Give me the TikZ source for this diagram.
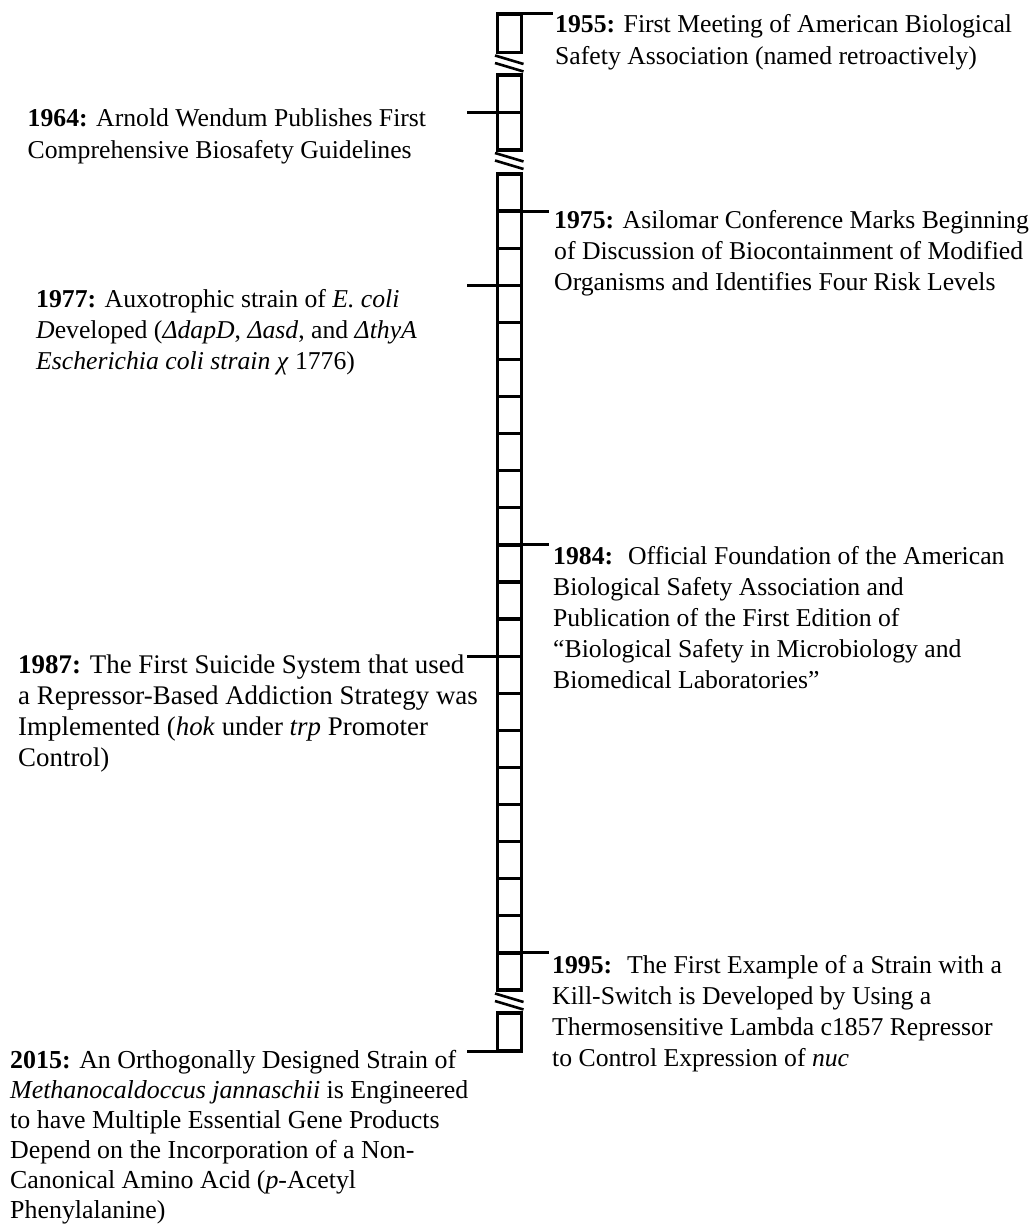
\documentclass[tikz,border=0pt]{standalone}
\usepackage{fontspec}
\setmainfont{Liberation Serif}
\newcommand{\tltext}[1]{\parbox[t]{540pt}{\raggedright #1}}
\begin{document}
\begin{tikzpicture}[x=1pt,y=-1pt,
  barline/.style={line width=3.3pt},
  tickline/.style={line width=3pt},
  breakline/.style={line width=2.6pt},
  evtext/.style={anchor=base west,inner sep=0pt,font=\fontsize{25.7}{31.2}\selectfont}]
\useasboundingbox (0,0) rectangle (1033,1228);
% bar geometry
\def\xl{497.5}\def\xr{521.5}
% segment 1
\draw[barline] (\xl,14) rectangle (\xr,52.5);
% segment 2
\draw[barline] (\xl,75) rectangle (\xr,150);
\draw[barline] (\xl,112.5) -- (\xr,112.5);
% segment 3
\draw[barline] (\xl,174) rectangle (\xr,990);
\foreach \k in {1,...,21} {
  \draw[barline] (\xl,174+\k*37.09) -- (\xr,174+\k*37.09);
}
% segment 4
\draw[barline] (\xl,1013) rectangle (\xr,1051);
% breaks
\foreach \y in {52.5,150,990.5} {
  \draw[breakline] (495,\y+3) -- (523.5,\y+11.5);
  \draw[breakline] (495,\y+10.5) -- (523.5,\y+19);
}
% tick coordinates
\coordinate (b55) at (\xr,14);   \coordinate (t55) at (553,14);
\coordinate (b64) at (\xl,112.5); \coordinate (t64) at (467,112.5);
\coordinate (b75) at (\xr,211.1); \coordinate (t75) at (549,211.1);
\coordinate (b77) at (\xl,285.4); \coordinate (t77) at (467,285.4);
\coordinate (b84) at (\xr,544.9); \coordinate (t84) at (549,544.9);
\coordinate (b87) at (\xl,656.2); \coordinate (t87) at (467,656.2);
\coordinate (b95) at (\xr,952.9); \coordinate (t95) at (549,952.9);
\coordinate (b15) at (\xl,1051);  \coordinate (t15) at (467,1051);
\foreach \n in {55,64,75,77,84,87,95,15} {
  \draw[tickline] (b\n) -- (t\n);
}
% texts
\node[evtext] (e55) at (555,33) {\tltext{\textbf{1955:} First Meeting of American Biological\\Safety Association (named retroactively)}};
\node[evtext] (e64) at (27.5,127) {\tltext{\textbf{1964:} Arnold Wendum Publishes First\\Comprehensive Biosafety Guidelines}};
\node[evtext] (e75) at (554,228) {\tltext{\textbf{1975:} Asilomar Conference Marks Beginning\\of Discussion of Biocontainment of Modified\\Organisms and Identifies Four Risk Levels}};
\node[evtext] (e77) at (36,307) {\tltext{\textbf{1977:} Auxotrophic strain of \textit{E. coli}\\\textit{D}eveloped (\textit{ΔdapD}, \textit{Δasd}, and \textit{ΔthyA}\\\textit{Escherichia coli strain χ} 1776)}};
\node[evtext] (e84) at (553,564) {\tltext{\textbf{1984:}\hspace{15pt}Official Foundation of the American\\Biological Safety Association and\\Publication of the First Edition of\\“Biological Safety in Microbiology and\\Biomedical Laboratories”}};
\node[evtext,font=\fontsize{26.9}{31.2}\selectfont] (e87) at (18,673) {\tltext{\textbf{1987:} The First Suicide System that used\\a Repressor-Based Addiction Strategy was\\Implemented (\textit{hok} under \textit{trp} Promoter\\Control)}};
\node[evtext] (e95) at (552,973) {\tltext{\textbf{1995:}\hspace{15pt}The First Example of a Strain with a\\Kill-Switch is Developed by Using a\\Thermosensitive Lambda c1857 Repressor\\to Control Expression of \textit{nuc}}};
\node[evtext,font=\fontsize{25.9}{30.1}\selectfont] (e15) at (10,1068) {\tltext{\textbf{2015:} An Orthogonally Designed Strain of\\\textit{Methanocaldoccus jannaschii} is Engineered\\to have Multiple Essential Gene Products\\Depend on the Incorporation of a Non-\\Canonical Amino Acid (\textit{p}-Acetyl\\Phenylalanine)}};
\end{tikzpicture}
\end{document}
